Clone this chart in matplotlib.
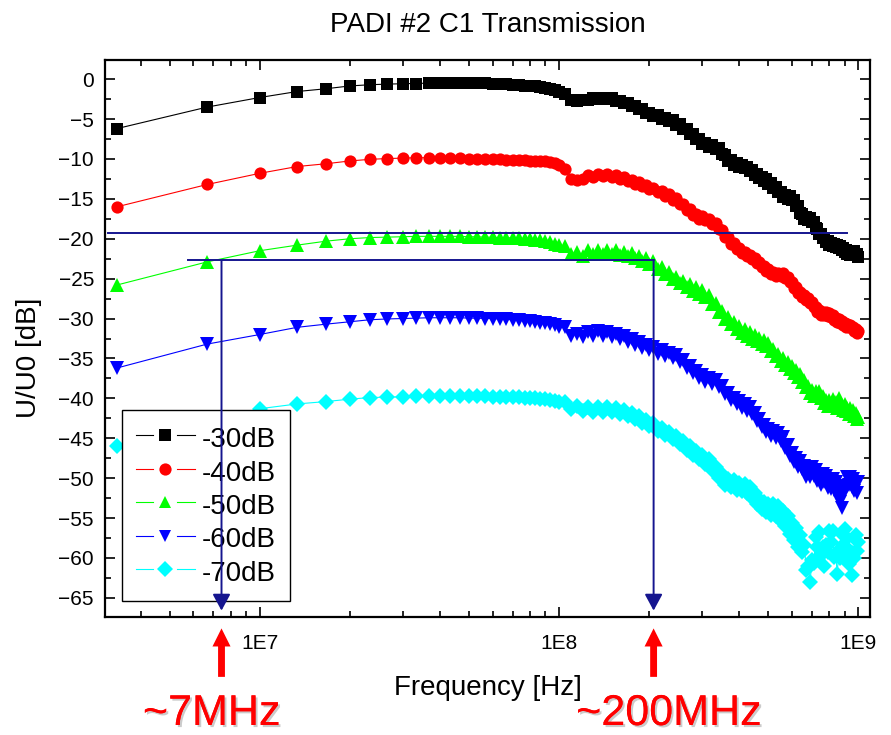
import numpy as np
import matplotlib
matplotlib.use("Agg")
import matplotlib.pyplot as plt
from matplotlib.lines import Line2D
from matplotlib.legend_handler import HandlerTuple
from matplotlib.ticker import FixedLocator, LogLocator, NullFormatter, MultipleLocator
import matplotlib.patheffects as pe

plt.rcParams['font.family'] = ['Liberation Sans', 'DejaVu Sans']

# frequency sweep points (MHz)
FREQ_MHZ = [3.33, 6.67, 10, 13.33, 16.67, 20, 23.33, 26.67, 30, 33.33,
            36.67, 40, 43.33, 46.67, 50, 53.33, 56.67, 60, 63.33, 66.67,
            70, 73.33, 76.67, 80, 83.33, 86.67, 90, 93.33, 96.67, 100,
            105, 110, 115, 120, 125, 130, 135, 140, 145, 150,
            155, 160, 165, 170, 175, 180, 185, 190, 195, 200,
            206.7, 213.3, 220, 226.7, 233.3, 240, 246.7, 253.3, 260, 266.7,
            273.3, 280, 286.7, 293.3, 300,
            308.3, 316.7, 325, 333.3, 341.7, 350, 358.3, 366.7, 375, 383.3,
            391.7, 400, 408.3, 416.7, 425, 433.3, 441.7, 450, 458.3, 466.7,
            475, 483.3, 491.7, 500,
            510, 520, 530, 540, 550, 560, 570, 580, 590, 600,
            610, 620, 630, 640, 650, 660, 670, 680, 690, 700,
            710, 720, 730, 740, 750, 760, 770, 780, 790, 800,
            810, 820, 830, 840, 850, 860, 870, 880, 890, 900,
            910, 920, 930, 940, 950, 960, 970, 980, 990, 1000]

# measured transmission U/U0 in dB for each attenuator setting
DB_30 = [-6.2, -3.5, -2.3, -1.55, -1.2, -0.85, -0.7, -0.62, -0.58, -0.55,
         -0.5, -0.5, -0.5, -0.5, -0.5, -0.5, -0.52, -0.55, -0.58, -0.62,
         -0.68, -0.75, -0.8, -0.85, -0.9, -1.0, -1.1, -1.2, -1.35, -1.55,
         -1.85, -2.6, -2.8, -2.55, -2.55, -2.35, -2.45, -2.3, -2.5, -2.4,
         -2.75, -2.7, -3.05, -3.0, -3.35, -3.35, -3.8, -3.75, -4.2, -4.2,
         -4.65, -4.55, -4.95, -4.85, -5.25, -5.15, -5.7, -5.6, -6.2, -6.2,
         -6.9, -6.85, -7.55, -7.5, -8.1,
         -7.95, -8.45, -8.25, -8.75, -8.65, -9.35, -9.45, -10.2, -10.15, -10.75,
         -10.55, -10.95, -10.7, -11.15, -10.95, -11.5, -11.4, -12.0, -11.85, -12.35,
         -12.2, -12.75, -12.55, -13.1,
         -13.0, -13.6, -13.55, -14.2, -14.15, -14.75, -14.55, -15.0, -14.7, -15.2,
         -15.1, -15.85, -15.95, -16.8, -16.95, -17.5, -17.25, -17.7, -17.45, -17.9,
         -17.85, -18.65, -18.75, -19.4, -19.35, -19.95, -19.85, -20.45, -20.3, -20.8,
         -20.5, -20.9, -20.65, -21.05, -20.75, -21.15, -20.9, -21.35, -21.15, -21.6,
         -21.45, -21.95, -21.75, -22.05, -21.65, -21.85, -21.5, -22.05, -21.85, -22.3]

DB_40 = [-16.0, -13.2, -11.8, -10.95, -10.6, -10.25, -10.05, -9.95, -9.9, -9.85,
         -9.85, -9.85, -9.9, -9.9, -9.95, -10.0, -10.0, -10.05, -10.05, -10.1,
         -10.1, -10.15, -10.15, -10.2, -10.2, -10.25, -10.3, -10.4, -10.5, -10.7,
         -11.2, -12.45, -12.65, -12.45, -12.0, -12.2, -11.85, -12.15, -11.9, -12.25,
         -12.05, -12.45, -12.3, -12.75, -12.6, -13.1, -12.9, -13.4, -13.25, -13.8,
         -13.65, -14.2, -14.05, -14.6, -14.45, -15.1, -14.95, -15.65, -15.6, -16.35,
         -16.3, -17.0, -16.85, -17.5, -17.2,
         -17.7, -17.5, -18.15, -18.05, -18.8, -18.9, -19.8, -19.8, -20.6, -20.55,
         -21.25, -21.1, -21.75, -21.6, -22.2, -22.0, -22.6, -22.45, -23.1, -22.9,
         -23.55, -23.4, -24.0, -23.8,
         -24.4, -24.15, -24.65, -24.3, -24.7, -24.35, -24.9, -24.75, -25.45, -25.4,
         -26.15, -26.1, -26.8, -26.65, -27.3, -27.1, -27.65, -27.45, -28.05, -27.9,
         -28.6, -28.5, -29.15, -28.95, -29.5, -29.2, -29.6, -29.2, -29.65, -29.3,
         -29.8, -29.55, -30.15, -29.9, -30.4, -30.05, -30.55, -30.25, -30.8, -30.6,
         -31.1, -30.7, -31.1, -30.75, -31.2, -31.0, -31.55, -31.3, -31.8, -31.6]

DB_50 = [-25.8, -22.9, -21.5, -20.8, -20.3, -20.0, -19.85, -19.8, -19.75, -19.7,
         -19.7, -19.7, -19.7, -19.7, -19.75, -19.75, -19.8, -19.8, -19.85, -19.85,
         -19.9, -19.95, -20.0, -20.05, -20.1, -20.2, -20.3, -20.4, -20.6, -20.8,
         -20.9, -21.9, -21.65, -22.1, -21.45, -21.9, -21.35, -21.85, -21.35, -21.9,
         -21.45, -22.05, -21.6, -22.2, -21.8, -22.45, -22.1, -22.8, -22.45, -23.2,
         -22.85, -23.75, -23.5, -24.45, -24.15, -25.1, -24.75, -25.6, -25.3, -26.1,
         -25.7, -26.5, -26.1, -26.9, -26.4,
         -27.3, -27.1, -28.2, -28.1, -29.2, -29.0, -30.05, -29.8, -30.7, -30.4,
         -31.25, -30.9, -31.75, -31.35, -32.15, -31.7, -32.5, -32.1, -32.85, -32.4,
         -33.15, -32.65, -33.45, -33.1,
         -34.05, -33.8, -34.7, -34.4, -35.3, -34.95, -35.8, -35.5, -36.35, -36.0,
         -36.85, -36.5, -37.35, -37.0, -37.9, -37.65, -38.6, -38.4, -39.3, -39.0,
         -39.7, -39.05, -39.5, -39.1, -39.9, -39.7, -40.6, -40.25, -40.9, -40.2,
         -40.7, -40.1, -40.8, -40.4, -41.2, -39.9, -41.1, -40.8, -41.45, -40.7,
         -41.6, -41.15, -41.9, -41.25, -41.8, -41.4, -42.25, -41.8, -42.6, -42.3]

DB_60 = [-36.2, -33.2, -32.0, -31.1, -30.7, -30.4, -30.15, -30.05, -30.0, -29.95,
         -29.9, -29.9, -29.9, -29.9, -29.95, -29.95, -30.0, -30.0, -30.05, -30.1,
         -30.15, -30.2, -30.3, -30.35, -30.4, -30.5, -30.6, -30.7, -30.8, -31.0,
         -31.1, -32.15, -31.9, -32.3, -31.65, -32.15, -31.6, -32.2, -31.7, -32.35,
         -31.9, -32.6, -32.2, -32.95, -32.55, -33.3, -32.9, -33.65, -33.3, -34.0,
         -33.6, -34.4, -34.0, -34.75, -34.3, -35.0, -34.6, -35.45, -35.2, -36.15,
         -35.9, -36.8, -36.55, -37.45, -37.1,
         -37.9, -37.45, -38.2, -37.75, -38.6, -38.4, -39.5, -39.3, -40.25, -39.9,
         -40.75, -40.35, -41.15, -40.75, -41.55, -41.1, -42.0, -41.8, -42.8, -42.6,
         -43.6, -43.35, -44.25, -43.9,
         -44.7, -44.05, -44.95, -44.3, -45.3, -44.9, -46.2, -45.9, -47.2, -46.9,
         -48.0, -47.5, -48.6, -47.9, -48.9, -48.5, -49.8, -49.1, -49.8, -48.6,
         -49.7, -49.0, -50.4, -49.5, -50.8, -49.5, -50.5, -49.7, -51.2, -50.3,
         -51.3, -50.1, -51.5, -50.5, -51.9, -51.2, -53.0, -53.7, -52.0, -51.0,
         -51.4, -49.9, -50.9, -49.8, -51.1, -50.1, -51.6, -50.6, -51.8, -50.5]

DB_70 = [-46.0, -43.3, -41.3, -40.7, -40.4, -40.1, -39.9, -39.85, -39.8, -39.75,
         -39.7, -39.7, -39.7, -39.7, -39.7, -39.75, -39.75, -39.8, -39.8, -39.8,
         -39.85, -39.85, -39.9, -39.95, -40.0, -40.05, -40.1, -40.2, -40.3, -40.5,
         -40.5, -41.3, -41.0, -41.6, -41.1, -41.7, -41.1, -41.7, -41.1, -41.75,
         -41.2, -41.9, -41.45, -42.2, -41.8, -42.6, -42.25, -43.05, -42.7, -43.5,
         -43.15, -44.1, -43.7, -44.6, -44.2, -45.15, -44.7, -45.7, -45.35, -46.45,
         -46.0, -47.1, -46.55, -47.65, -47.1,
         -48.2, -47.6, -48.95, -48.55, -50.0, -49.5, -50.85, -50.1, -51.15, -50.25,
         -51.45, -50.55, -51.6, -50.75, -51.9, -51.1, -52.45, -51.85, -53.25, -52.6,
         -53.85, -53.05, -54.2, -53.3,
         -54.6, -53.2, -54.8, -53.5, -55.4, -54.1, -56.0, -54.8, -57.0, -55.6,
         -57.8, -56.3, -58.6, -57.1, -59.3, -58.4, -61.5, -61.0, -63.0, -60.3,
         -60.6, -57.4, -58.6, -56.8, -59.6, -58.6, -61.0, -58.4, -59.3, -56.6,
         -58.0, -56.6, -59.9, -59.4, -62.0, -59.4, -60.0, -57.0, -58.4, -56.4,
         -58.6, -57.5, -60.7, -59.9, -62.1, -59.4, -60.0, -57.1, -59.1, -58.0]

LABELS = ["-30dB", "-40dB", "-50dB", "-60dB", "-70dB"]
COLORS = ["#000000", "#ff0000", "#00ff00", "#0000ff", "#00ffff"]
MARKERS = ["s", "o", "^", "v", "D"]
SIZES = [8.2, 8.8, 9.4, 9.4, 8.0]
LEG_SIZES = [8.0, 8.8, 9.2, 9.2, 8.4]

# bandwidth markers
LEVEL_FLAT = -19.3
LEVEL_3DB = -22.7
F_LOW = 7.45e6
F_HIGH = 2.07e8

NAVY = "#15158f"

freq = np.array(FREQ_MHZ) * 1e6
series = [DB_30, DB_40, DB_50, DB_60, DB_70]

fig = plt.figure(figsize=(8.91, 7.35), dpi=100)
ax = fig.add_axes([105 / 891, 1 - 617 / 735, 765 / 891, 557 / 735])

for vals, lab, c, m, ms in zip(series, LABELS, COLORS, MARKERS, SIZES):
    ax.plot(freq, vals, color=c, lw=0.8, marker=m, markersize=ms,
            markeredgewidth=0, label=lab, zorder=3)

ax.set_xscale("log")
ax.set_xlim(3.04e6, 1.094e9)
ax.set_ylim(-67.4, 2.4)

ax.xaxis.set_major_locator(FixedLocator([1e7, 1e8, 1e9]))
ax.set_xticklabels(["1E7", "1E8", "1E9"])
ax.xaxis.set_minor_locator(LogLocator(base=10, subs=np.arange(2, 10)))
ax.xaxis.set_minor_formatter(NullFormatter())
ax.yaxis.set_major_locator(FixedLocator(np.arange(-65, 1, 5)))
ax.yaxis.set_minor_locator(MultipleLocator(2.5))

ax.tick_params(which="both", direction="in", top=True, right=True, labelsize=15)
ax.tick_params(which="major", length=7.5, width=1.2)
ax.tick_params(which="minor", length=4.5, width=1.2)
ax.tick_params(axis="x", pad=12)
ax.tick_params(axis="y", pad=8)
for sp in ax.spines.values():
    sp.set_linewidth(1.6)

ax.set_title("PADI #2 C1 Transmission", fontsize=20, pad=20)
ax.set_xlabel("Frequency [Hz]", fontsize=20)
ax.set_ylabel("U/U0 [dB]", fontsize=20)
ax.xaxis.set_label_coords(0.5, -0.104)
ax.yaxis.set_label_coords(-0.082, 0.465)

# flat level and -3dB level guide lines
ax.plot([3.1e6, 9.16e8], [LEVEL_FLAT, LEVEL_FLAT], color=NAVY, lw=1.4, zorder=4)
ax.plot([5.74e6, F_HIGH], [LEVEL_3DB, LEVEL_3DB], color=NAVY, lw=1.4, zorder=4)
for f in (F_LOW, F_HIGH):
    ax.annotate("", xy=(f, -66.6), xytext=(f, LEVEL_3DB),
                arrowprops=dict(arrowstyle="-|>,head_length=0.5,head_width=0.27",
                                color=NAVY, lw=1.4, mutation_scale=20,
                                shrinkA=0, shrinkB=0),
                zorder=6)

# legend: line, white gap, marker
handles = []
for c, m, ms in zip(COLORS, MARKERS, LEG_SIZES):
    line = Line2D([], [], color=c, lw=0.8)
    gap = Line2D([], [], ls="none", marker="o", markersize=16.5,
                 markerfacecolor="white", markeredgewidth=0)
    mark = Line2D([], [], ls="none", marker=m, markersize=ms, color=c,
                  markeredgewidth=0)
    handles.append((line, gap, mark))
leg = ax.legend(handles, LABELS, handler_map={tuple: HandlerTuple(ndivide=1, pad=0)},
                loc="lower left", bbox_to_anchor=(0.0218, 0.0293), borderaxespad=0,
                fontsize=20, handlelength=2.15, handleheight=1.22, handletextpad=0.25,
                borderpad=0.5, labelspacing=0.13, numpoints=1,
                fancybox=False, framealpha=1, edgecolor="black")
leg.get_frame().set_linewidth(1.0)
leg.set_zorder(5)

# red callouts below the frequency axis
shadow = [pe.withSimplePatchShadow(offset=(1.5, -1.5), shadow_rgbFace="0.6", alpha=0.5),
          pe.Normal()]
for f, txt, dx in ((F_LOW, "~7MHz", -10), (F_HIGH, "~200MHz", 15)):
    ax.annotate("", xy=(f, -0.0205), xycoords=("data", "axes fraction"),
                xytext=(f, -0.1075), textcoords=("data", "axes fraction"),
                arrowprops=dict(arrowstyle="simple,head_length=0.5,head_width=0.5,tail_width=0.19",
                                color="red", lw=0, mutation_scale=26,
                                shrinkA=0, shrinkB=0),
                annotation_clip=False)
    ax.annotate(txt, xy=(f, 0), xycoords=("data", "figure fraction"),
                xytext=(dx, 10), textcoords="offset pixels",
                ha="center", va="baseline", fontsize=31, color="red",
                path_effects=shadow, annotation_clip=False)

fig.savefig("out.png", dpi=100)
